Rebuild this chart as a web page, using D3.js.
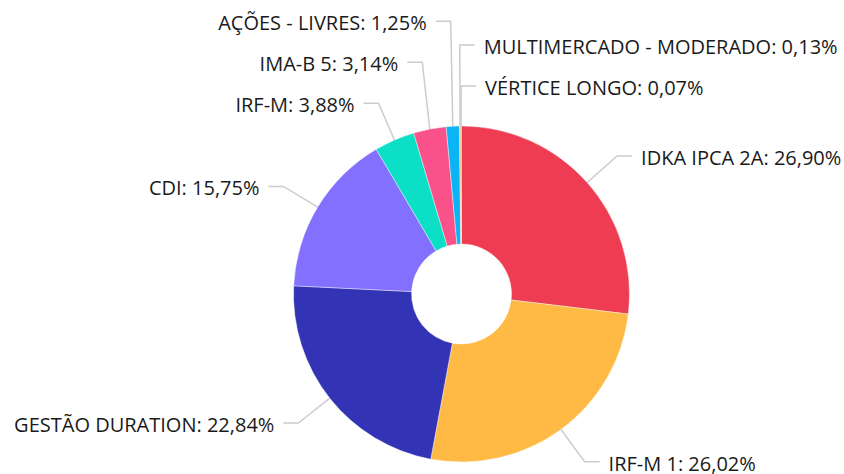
<!DOCTYPE html>
<html>
<head>
<meta charset="utf-8">
<script src="https://cdn.jsdelivr.net/npm/d3@7"></script>
<style>
  html, body { margin: 0; padding: 0; background: #ffffff; }
  svg { display: block; }
  text { font-family: "Open Sans", "Noto Sans", sans-serif; }
</style>
</head>
<body>
<svg id="chart" width="844" height="474"></svg>
<script>
// ---- data ----
const categories = [
  "IDKA IPCA 2A",
  "IRF-M 1",
  "GESTÃO DURATION",
  "CDI",
  "IRF-M",
  "IMA-B 5",
  "AÇÕES - LIVRES",
  "MULTIMERCADO - MODERADO",
  "VÉRTICE LONGO"
];
const values = [26.90, 26.02, 22.84, 15.75, 3.88, 3.14, 1.25, 0.13, 0.07];
const colors = ["#EE3D52", "#FFBA45", "#3333B5", "#8470FF", "#0BE0C6", "#F9528B", "#0AB4F5", "#F4A040", "#8A7050"];

// ---- layout ----
const W = 844, H = 474;
const cx = 461.5, cy = 294;
const outerR = 168, innerR = 50;
const labelDistance = 40;
const minSpacing = 41;
const hLen = 15, textGap = 9;

const rows = categories.map((c, i) => ({ name: c, value: values[i], color: colors[i] }));

const svg = d3.select("#chart");
const g = svg.append("g").attr("transform", `translate(${cx},${cy})`);

const pie = d3.pie().sort(null).value(d => d.value);
const arcs = pie(rows);
const arcGen = d3.arc().innerRadius(innerR).outerRadius(outerR);

g.selectAll("path.slice")
  .data(arcs)
  .join("path")
  .attr("class", "slice")
  .attr("d", arcGen)
  .attr("fill", d => d.data.color)
  .attr("stroke", "#ffffff")
  .attr("stroke-width", 0.4);

// ---- label placement ----
const R = outerR + labelDistance;
const TAU = 2 * Math.PI;
const labels = arcs.map(a => {
  const m = (a.startAngle + a.endAngle) / 2;
  const right = m < Math.PI || m > TAU - 0.03;
  const wrapped = m > Math.PI ? m - TAU : m; // (-pi, pi]
  return {
    arc: a, m, right, wrapped,
    natural: -R * Math.cos(m), // relative to cy
    naturalX: R * Math.sin(m)
  };
});

function distribute(list) {
  // list sorted top to bottom
  const upper = list.filter(l => l.natural < 0);
  const lower = list.filter(l => l.natural >= 0);
  // upper half: sweep bottom-up, push labels upward
  let below = Infinity;
  for (let i = upper.length - 1; i >= 0; i--) {
    const l = upper[i];
    l.y = Math.min(l.natural, below - minSpacing);
    below = l.y;
  }
  // lower half: sweep top-down, push labels downward
  let above = upper.length ? upper[upper.length - 1].y : -Infinity;
  for (let i = 0; i < lower.length; i++) {
    const l = lower[i];
    l.y = Math.max(l.natural, above + minSpacing);
    above = l.y;
  }
}

const rightSide = labels.filter(l => l.right).sort((a, b) => a.wrapped - b.wrapped);
const leftSide = labels.filter(l => !l.right).sort((a, b) => b.m - a.m);
distribute(rightSide);
distribute(leftSide);

const fmt = v => v.toFixed(2).replace(".", ",") + "%";

labels.forEach(l => {
  const m = l.m;
  const tx = outerR * Math.sin(m), ty = -outerR * Math.cos(m);
  const crookX = l.naturalX;
  const dir = l.right ? 1 : -1;
  const endX = crookX + dir * hLen;
  l.path = [[tx, ty], [crookX, l.y], [endX, l.y]];
  l.textX = endX + dir * textGap;
});

const line = d3.line();
g.selectAll("path.connector")
  .data(labels)
  .join("path")
  .attr("class", "connector")
  .attr("d", d => line(d.path))
  .attr("fill", "none")
  .attr("stroke", "#cccccc")
  .attr("stroke-width", 1.5);

g.selectAll("text.label")
  .data(labels)
  .join("text")
  .attr("class", "label")
  .attr("x", d => d.textX)
  .attr("y", d => d.y + 9)
  .attr("text-anchor", d => d.right ? "start" : "end")
  .attr("font-size", 20)
  .attr("fill", "#1a1a1a")
  .text(d => `${d.arc.data.name}: ${fmt(d.arc.data.value)}`);
</script>
</body>
</html>
